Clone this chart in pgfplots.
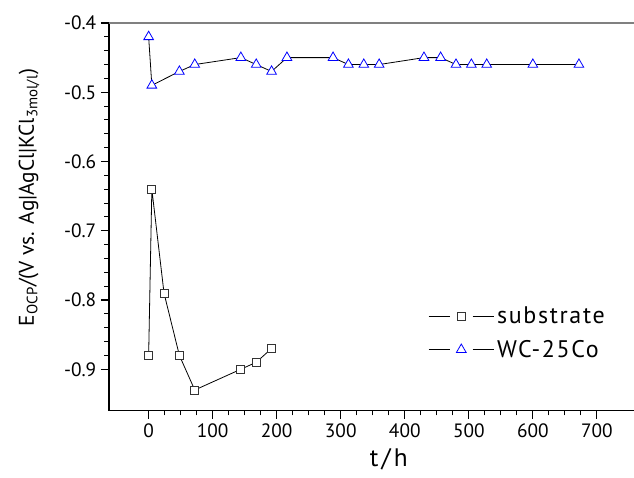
\documentclass[border=0pt]{standalone}
\usepackage{fontspec}
\setmainfont{PT Sans}
\newfontfamily\legfont[LetterSpace=7]{PT Sans}
\usepackage{pgfplots}
\pgfplotsset{compat=1.18}
\begin{document}
\begin{tikzpicture}
\begin{axis}[name=ax, scale only axis, width=394pt, height=291pt,
  xmin=-62, xmax=758, ymin=-0.96, ymax=-0.4,
  axis x line*=bottom, axis y line*=left,
  axis line style={-, line width=1pt, black},
  xtick={0,100,200,300,400,500,600,700}, minor x tick num=3,
  ytick={-0.9,-0.8,-0.7,-0.6,-0.5,-0.4}, minor y tick num=4,
  tick align=outside, major tick length=6pt, minor tick length=3.5pt,
  tick style={black, line width=0.8pt},
  /pgf/number format/assume math mode=true,
  yticklabel style={/pgf/number format/.cd, fixed, fixed zerofill, precision=1},
  ticklabel style={font=\fontsize{14.5}{16}\selectfont},
  xlabel={t\kern2.5pt/\kern2.5pt h},
  xlabel style={at={(axis description cs:0.533,-0.126)}, anchor=center, font=\fontsize{19}{22}\selectfont},
  ylabel={E\textsubscript{OCP}/(V vs. Ag|AgCl|KCl\textsubscript{3mol/l})},
  ylabel style={at={(axis description cs:-0.152,0.55)}, anchor=center, font=\fontsize{16}{18}\selectfont},
  legend entries={substrate, WC-25Co},
  legend cell align=left,
  legend style={draw=none, fill=none, at={(axis description cs:0.6,0.283)}, anchor=north west,
    font=\legfont\fontsize{18}{20}\selectfont, row sep=7pt},
  legend image code/.code={
    \draw[#1, mark=none] (0pt,0pt) -- (16pt,0pt);
    \draw[#1, mark=none] (33pt,0pt) -- (49pt,0pt);
    \draw[#1, only marks] plot coordinates {(24.5pt,0pt)};},
  clip=false,
]
\addplot[black, line width=0.6pt, mark=square*, mark size=3pt,
  mark options={fill=white, draw=black!80, line width=0.6pt}] coordinates {
  (0,-0.88) (5,-0.64) (24,-0.79) (48,-0.88) (72,-0.93) (144,-0.90) (168,-0.89) (192,-0.87)
};
\addplot[black, line width=0.6pt, mark=triangle*, mark size=4.2pt,
  mark options={fill=white, draw=blue, line width=0.6pt}] coordinates {
  (0,-0.42) (5,-0.49) (48,-0.47) (72,-0.46) (144,-0.45) (168,-0.46) (192,-0.47) (216,-0.45)
  (288,-0.45) (312,-0.46) (336,-0.46) (360,-0.46) (430,-0.45) (456,-0.45) (480,-0.46)
  (504,-0.46) (528,-0.46) (600,-0.46) (672,-0.46)
};
\draw[gray, line width=1.5pt] (rel axis cs:0,1) -- (rel axis cs:1,1);
\end{axis}
\pgfresetboundingbox
\path ([xshift=-81.75pt,yshift=-50.25pt]ax.south west) rectangle ([yshift=17.25pt]ax.north east);
\end{tikzpicture}
\end{document}
